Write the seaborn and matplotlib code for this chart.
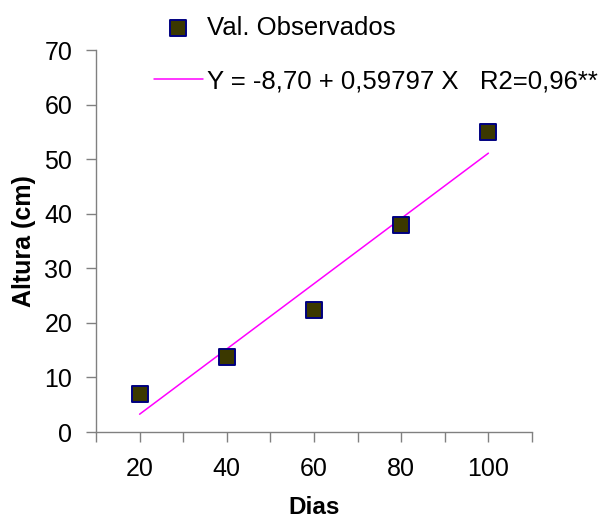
import matplotlib
matplotlib.use("Agg")
import matplotlib.pyplot as plt
import seaborn as sns
import numpy as np
import pandas as pd
from matplotlib.ticker import FixedLocator, FixedFormatter

# Observed heights (cm) by day
dias = [20, 40, 60, 80, 100]
altura = [7.0, 13.8, 22.4, 38.0, 55.0]

# Fitted linear regression
intercepto = -8.70
inclinacao = 0.59797
r2_label = "Y = -8,70 + 0,59797 X   R2=0,96**"
obs_label = "Val. Observados"

x_ticks = [10, 20, 30, 40, 50, 60, 70, 80, 90, 100, 110]
x_tick_labels = ["", "20", "", "40", "", "60", "", "80", "", "100", ""]
y_ticks = [0, 10, 20, 30, 40, 50, 60, 70]

sns.set_style("ticks")
plt.rcParams["font.family"] = ["Liberation Sans", "DejaVu Sans"]
plt.rcParams["text.color"] = "black"
plt.rcParams["axes.labelcolor"] = "black"

fig = plt.figure(figsize=(6.13, 5.18), dpi=100)
ax = fig.add_axes([96 / 613, 1 - 432 / 518, (532 - 96) / 613, (432 - 50) / 518])

obs = pd.DataFrame({"Dias": dias, "Altura": altura})
fit_x = np.array([dias[0], dias[-1]], dtype=float)
fit = pd.DataFrame({"Dias": fit_x, "Altura": intercepto + inclinacao * fit_x})

sns.lineplot(data=fit, x="Dias", y="Altura", ax=ax, color="#ff00ff",
             linewidth=1.1, label=r2_label, zorder=2)
sns.scatterplot(data=obs, x="Dias", y="Altura", ax=ax, marker="s", s=120,
                color="#3b3800", edgecolor="#000080", linewidth=1.4,
                label=obs_label, zorder=3)

ax.set_xlim(10, 110)
ax.set_ylim(0, 70)
ax.xaxis.set_major_locator(FixedLocator(x_ticks))
ax.xaxis.set_major_formatter(FixedFormatter(x_tick_labels))
ax.yaxis.set_major_locator(FixedLocator(y_ticks))

for side in ["top", "right"]:
    ax.spines[side].set_visible(False)
for side in ["left", "bottom"]:
    ax.spines[side].set_color("#808080")
    ax.spines[side].set_linewidth(1.0)

ax.tick_params(axis="x", direction="out", length=7, width=1, color="#808080",
               labelsize=18, pad=11, labelcolor="black")
ax.tick_params(axis="y", direction="out", length=7, width=1, color="#808080",
               labelsize=18, pad=10, labelcolor="black")

ax.set_xlabel("")
ax.set_ylabel("Altura (cm)", fontsize=18, fontweight="bold", labelpad=6,
              color="black")
fig.text((96 + 532) / 2 / 613, 1 - 514 / 518, "Dias", fontsize=17.5,
         fontweight="bold", ha="center", va="baseline", color="black")

handles, labels = ax.get_legend_handles_labels()
order = [labels.index(obs_label), labels.index(r2_label)]
ax.legend([handles[i] for i in order], [labels[i] for i in order],
          loc="upper left", bbox_to_anchor=(154 / 613, 1 - 16 / 518),
          bbox_transform=fig.transFigure, frameon=False, fontsize=18.5,
          handlelength=1.9, handletextpad=0.18, labelspacing=1.14,
          borderpad=0, borderaxespad=0, labelcolor="black")

fig.savefig("out.png", dpi=100)
